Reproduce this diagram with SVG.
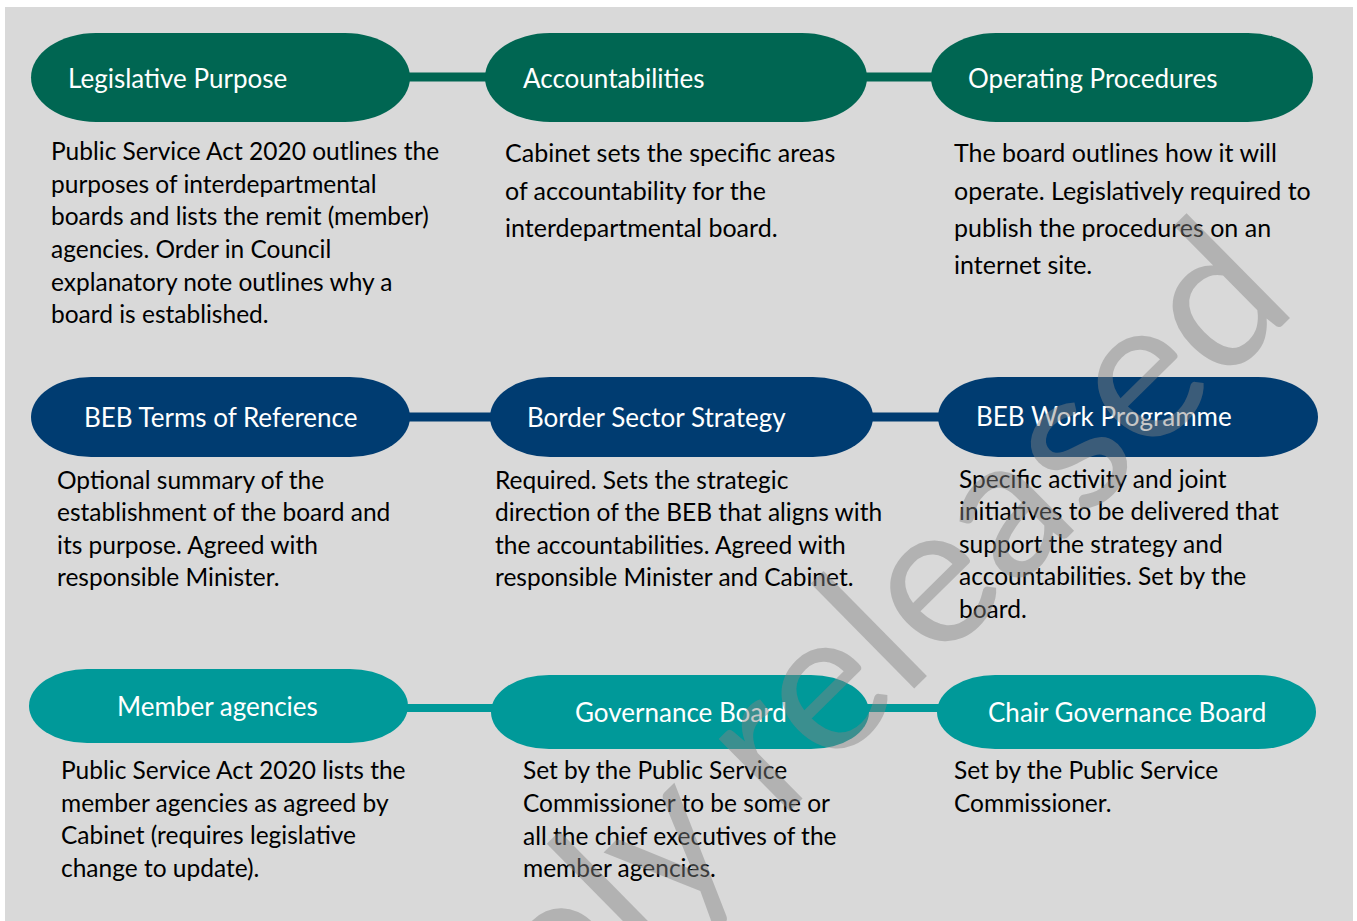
<svg xmlns="http://www.w3.org/2000/svg" width="1357" height="921" viewBox="0 0 1357 921">
<style>
.t{font-family:Lato,"Open Sans","Liberation Sans",sans-serif;font-size:26px;fill:#ffffff}
.b{font-family:Lato,"Open Sans","Liberation Sans",sans-serif;font-size:24.5px;fill:#000000}
.b2{font-size:25px}
.g{fill:#006652}
.n{fill:#003c71}
.c{fill:#009999}
.lg{stroke:#006652;stroke-width:9}
.ln{stroke:#003c71;stroke-width:9}
.lc{stroke:#009999;stroke-width:8}
.wm{font-family:Lato,"Open Sans","Liberation Sans",sans-serif;font-size:200px;fill:#828282;fill-opacity:0.45}
</style>
<rect x="0" y="0" width="1357" height="921" fill="#ffffff"/>
<rect x="5" y="7" width="1348" height="914" fill="#d9d9d9"/>
<g id="connectors">
<line class="lg" x1="405" y1="77" x2="490" y2="77"/>
<line class="lg" x1="862" y1="77" x2="936" y2="77"/>
<line class="ln" x1="405" y1="417" x2="495" y2="417"/>
<line class="ln" x1="868" y1="417" x2="943" y2="417"/>
<line class="lc" x1="402" y1="708" x2="496" y2="708"/>
<line class="lc" x1="864" y1="708" x2="942" y2="708"/>
</g>
<g id="legislative-purpose">
<rect class="g" x="31" y="33" width="379" height="89" rx="65" ry="44.5"/>
<text class="t" x="68" y="88">Legislative Purpose</text>
<text class="b" x="51"><tspan x="51" y="160">Public Service Act 2020 outlines the</tspan><tspan x="51" y="193">purposes of interdepartmental</tspan><tspan x="51" y="225">boards and lists the remit (member)</tspan><tspan x="51" y="258">agencies. Order in Council</tspan><tspan x="51" y="291">explanatory note outlines why a</tspan><tspan x="51" y="323">board is established.</tspan></text>
</g>
<g id="accountabilities">
<rect class="g" x="485" y="33" width="382" height="89" rx="65" ry="44.5"/>
<text class="t" x="523" y="88">Accountabilities</text>
<text class="b b2"><tspan x="505" y="162">Cabinet sets the specific areas</tspan><tspan x="505" y="200">of accountability for the</tspan><tspan x="505" y="237">interdepartmental board.</tspan></text>
</g>
<g id="operating-procedures">
<rect class="g" x="931" y="33" width="382" height="89" rx="65" ry="44.5"/>
<text class="t" x="968" y="88">Operating Procedures</text>
<text class="b b2"><tspan x="954" y="162">The board outlines how it will</tspan><tspan x="954" y="200">operate. Legislatively required to</tspan><tspan x="954" y="237">publish the procedures on an</tspan><tspan x="954" y="274">internet site.</tspan></text>
</g>
<g id="beb-terms-of-reference">
<rect class="n" x="31" y="377" width="379" height="80" rx="60" ry="40"/>
<text class="t" x="84" y="427">BEB Terms of Reference</text>
<text class="b"><tspan x="57" y="489">Optional summary of the</tspan><tspan x="57" y="521">establishment of the board and</tspan><tspan x="57" y="554">its purpose. Agreed with</tspan><tspan x="57" y="586">responsible Minister.</tspan></text>
</g>
<g id="border-sector-strategy">
<rect class="n" x="490" y="377" width="383" height="80" rx="60" ry="40"/>
<text class="t" x="527" y="427">Border Sector Strategy</text>
<text class="b"><tspan x="495" y="489">Required. Sets the strategic</tspan><tspan x="495" y="521">direction of the BEB that aligns with</tspan><tspan x="495" y="554">the accountabilities. Agreed with</tspan><tspan x="495" y="586">responsible Minister and Cabinet.</tspan></text>
</g>
<g id="beb-work-programme">
<rect class="n" x="938" y="377" width="380" height="80" rx="60" ry="40"/>
<text class="t" x="976" y="426">BEB Work Programme</text>
<text class="b"><tspan x="959" y="488">Specific activity and joint</tspan><tspan x="959" y="520">initiatives to be delivered that</tspan><tspan x="959" y="553">support the strategy and</tspan><tspan x="959" y="585">accountabilities. Set by the</tspan><tspan x="959" y="618">board.</tspan></text>
</g>
<g id="member-agencies">
<rect class="c" x="29" y="669" width="379" height="74" rx="58" ry="37"/>
<text class="t" x="117" y="716">Member agencies</text>
<text class="b"><tspan x="61" y="779">Public Service Act 2020 lists the</tspan><tspan x="61" y="812">member agencies as agreed by</tspan><tspan x="61" y="844">Cabinet (requires legislative</tspan><tspan x="61" y="877">change to update).</tspan></text>
</g>
<g id="governance-board">
<rect class="c" x="491" y="675" width="378" height="74" rx="58" ry="37"/>
<text class="t" x="575" y="722">Governance Board</text>
<text class="b"><tspan x="523" y="779">Set by the Public Service</tspan><tspan x="523" y="812">Commissioner to be some or</tspan><tspan x="523" y="845">all the chief executives of the</tspan><tspan x="523" y="877">member agencies.</tspan></text>
</g>
<g id="chair-governance-board">
<rect class="c" x="937" y="675" width="379" height="74" rx="58" ry="37"/>
<text class="t" x="988" y="722">Chair Governance Board</text>
<text class="b"><tspan x="954" y="779">Set by the Public Service</tspan><tspan x="954" y="812">Commissioner.</tspan></text>
</g>
<g id="watermark">
<text class="wm" x="1300" y="308" text-anchor="end" transform="rotate(-44.6 1300 308)">Proactively released</text>
</g>
</svg>
